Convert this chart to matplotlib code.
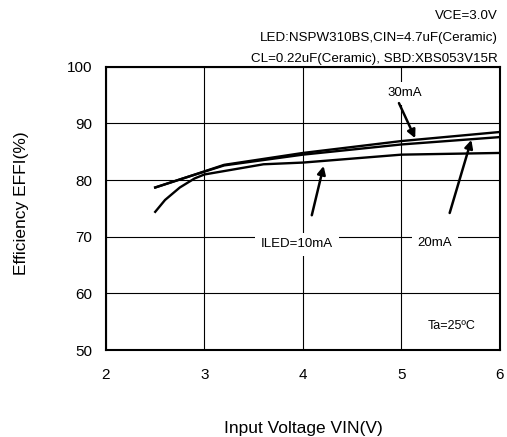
import matplotlib
matplotlib.use("Agg")
import matplotlib.pyplot as plt

plt.rcParams['font.family'] = ['Liberation Sans', 'DejaVu Sans']

# Data
vin_30 = [2.5, 2.8, 3.2, 4.0, 5.0, 6.0]
eff_30 = [78.7, 80.4, 82.7, 84.8, 86.9, 88.5]
vin_20 = [2.5, 2.8, 3.2, 4.0, 5.0, 6.0]
eff_20 = [78.7, 80.4, 82.6, 84.5, 86.3, 87.6]
vin_10 = [2.5, 2.6, 2.75, 2.9, 3.0, 3.6, 4.0, 5.0, 6.0]
eff_10 = [74.4, 76.5, 78.7, 80.3, 81.0, 82.8, 83.1, 84.5, 84.8]

x_ticks = [2, 3, 4, 5, 6]
y_ticks = [50, 60, 70, 80, 90, 100]

fig = plt.figure(figsize=(5.07, 4.37), dpi=100)
ax = fig.add_axes([0.209, 0.199, 0.777, 0.648])

for x, y in [(vin_30, eff_30), (vin_20, eff_20), (vin_10, eff_10)]:
    ax.plot(x, y, color='black', lw=1.7, zorder=3)

ax.set_xlim(2, 6)
ax.set_ylim(50, 100)
ax.set_xticks(x_ticks)
ax.set_yticks(y_ticks)
ax.grid(True, color='black', lw=0.8)
ax.tick_params(length=0, labelsize=11)
ax.tick_params(axis='x', pad=13)
ax.tick_params(axis='y', pad=10)
for s in ax.spines.values():
    s.set_linewidth(1.5)

fig.text(0.598, 1 - 428 / 437, 'Input Voltage VIN(V)', fontsize=12.5, ha='center', va='center')
fig.text(22 / 507, 1 - 203 / 437, 'Efficiency EFFI(%)', fontsize=12.5, ha='center', va='center', rotation=90)

box = dict(facecolor='white', edgecolor='none', pad=4)
arrow = dict(arrowstyle='-|>', color='black', lw=1.8, mutation_scale=12, shrinkA=0, shrinkB=0)

ax.text(5.03, 95.3, '30mA', fontsize=9.5, ha='center', va='center', bbox=box, zorder=4)
ax.annotate('', xy=(5.14, 87.4), xytext=(4.975, 93.6), arrowprops=arrow, zorder=5)

ax.text(3.94, 68.7, 'ILED=10mA', fontsize=9.5, ha='center', va='center', bbox=box, zorder=4)
ax.annotate('', xy=(4.21, 82.5), xytext=(4.09, 73.8), arrowprops=arrow, zorder=5)

ax.text(5.34, 68.9, '20mA', fontsize=9.5, ha='center', va='center', bbox=box, zorder=4)
ax.annotate('', xy=(5.71, 87.1), xytext=(5.49, 74.2), arrowprops=arrow, zorder=5)

ax.text(5.51, 54.2, 'Ta=25ºC', fontsize=9, ha='center', va='center', bbox=box, zorder=4)

fig.text(0.982, 0.963, 'VCE=3.0V', fontsize=9.6, ha='right', va='center')
fig.text(0.982, 0.913, 'LED:NSPW310BS,CIN=4.7uF(Ceramic)', fontsize=9.6, ha='right', va='center')
fig.text(0.982, 0.865, 'CL=0.22uF(Ceramic), SBD:XBS053V15R', fontsize=9.6, ha='right', va='center')

fig.savefig('out.png', dpi=100)
